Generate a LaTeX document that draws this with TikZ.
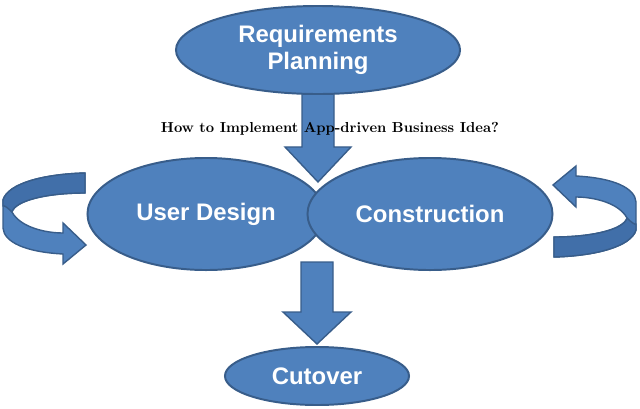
\documentclass[tikz,border=0pt]{standalone}
\usepackage{fontspec}
\newfontfamily\boxfont{Liberation Sans}
\usetikzlibrary{calc,backgrounds,shapes.geometric}
\definecolor{ellfill}{HTML}{4F81BD}
\definecolor{elledge}{HTML}{385D8A}
\definecolor{backband}{HTML}{416FA9}
\begin{document}
\begin{tikzpicture}[x=0.025cm,y=-0.025cm,
    phase/.style={ellipse,draw=elledge,line width=1.4pt,fill=ellfill,text=white,
        font=\boxfont\bfseries\fontsize{17}{19}\selectfont,align=center,inner sep=0pt},
    blockarrow/.style={draw=elledge,line width=1pt,fill=ellfill,line join=miter},
    pics/ringarrow/.style={code={
        \filldraw[blockarrow] (85,173) -- (85,193) .. controls (45,193) and (15,201) .. (12,212)
            .. controls (20,227) and (45,233) .. (63,233) -- (63,223) -- (86,245) -- (63,264) -- (63,254)
            .. controls (25,252) and (4,242) .. (3,228) -- (3,200)
            .. controls (8,183) and (45,174) .. (85,173) -- cycle;
        \filldraw[blockarrow,fill=backband] (85,173) -- (85,193) .. controls (45,193) and (15,201) .. (12,212)
            .. controls (8,208) and (4,205) .. (3,206) -- (3,200) .. controls (8,183) and (45,174) .. (85,173) -- cycle;
    }}]
    \useasboundingbox (0,0) rectangle (640,409);

    % Phases
    \node[phase,minimum width=7.1cm,minimum height=2.2cm] (req) at (318,50) {Requirements\\Planning};
    \node[phase,minimum width=5.925cm,minimum height=2.8cm] (user) at (206,214) {User Design};
    \node[phase,minimum width=6.125cm,minimum height=2.8cm] (cons) at (430,214) {Construction};
    \node[phase,minimum width=4.6cm,minimum height=1.45cm] (cut) at (317,376) {Cutover};

    % Title
    \node[font=\bfseries\fontsize{10.3}{12}\selectfont] (title) at (330,129) {How to Implement App-driven Business Idea?};

    % Arrows behind the phases
    \begin{pgfonlayer}{background}
        \filldraw[blockarrow] (req.south) ++(-16,-4) -- ++(0,56) -- ++(-17,0) -- ++(33,35)
            -- ++(33,-35) -- ++(-17,0) -- ++(0,-56) -- cycle;
        \filldraw[blockarrow] (cut.north) ++(-16,-84) -- ++(0,50) -- ++(-18,0) -- ++(34,32)
            -- ++(34,-32) -- ++(-18,0) -- ++(0,-50) -- cycle;
        \pic at (0,0) {ringarrow};
        \pic[rotate=180] at (639,430) {ringarrow};
    \end{pgfonlayer}
\end{tikzpicture}
\end{document}
